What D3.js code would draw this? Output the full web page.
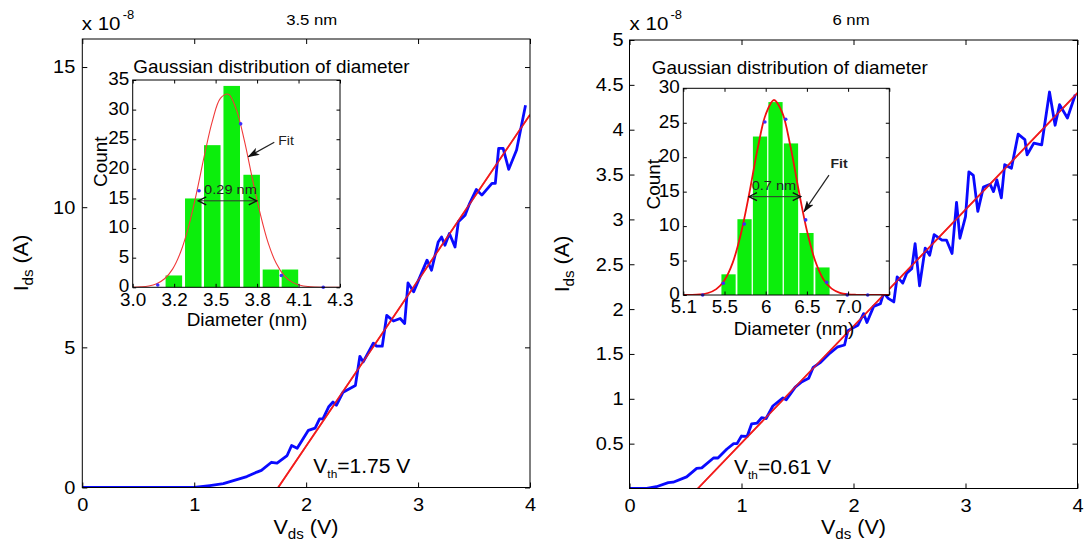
<!DOCTYPE html>
<html>
<head>
<meta charset="utf-8">
<script src="https://cdn.jsdelivr.net/npm/d3@7/dist/d3.min.js"></script>
<style>
  html,body{margin:0;padding:0;background:#fff;}
  svg{display:block;}
</style>
</head>
<body>
<svg id="chart" width="1086" height="552"></svg>
<script>
// ================= DATA =================
// ---- Panel A : 3.5 nm ----
const titleA = "3.5 nm";
const vdsA = [0,0.5,1.0,1.02,1.14,1.26,1.38,1.47,1.56,1.60,1.69,1.74,1.83,1.87,1.92,2.02,2.08,2.12,2.15,2.20,2.24,2.27,2.33,2.44,2.48,2.51,2.60,2.63,2.68,2.72,2.78,2.84,2.88,2.91,2.96,3.08,3.12,3.18,3.21,3.24,3.28,3.33,3.36,3.42,3.46,3.52,3.57,3.66,3.69,3.72,3.76,3.81,3.88,3.96];
const idsA = [0,0,0,0.01,0.07,0.14,0.28,0.39,0.55,0.61,0.90,0.87,1.14,1.50,1.40,2.04,2.12,2.45,2.45,2.87,3.05,2.93,3.40,3.64,4.68,4.48,5.15,5.04,5.04,6.14,5.94,6.03,5.85,7.30,6.98,8.11,7.75,8.76,8.94,8.64,9.06,8.58,9.48,9.71,10.13,10.63,10.43,10.85,10.85,12.10,12.10,11.35,12.04,13.64];
const fitVA = [1.75, 4.0];
const fitIA = [0, 13.3];
const vthTextA = "=1.75 V";
const yTicksA = [0, 5, 10, 15];
// inset A : diameter histogram
const binA = [3.258, 3.380, 3.499, 3.621, 3.746, 3.867, 3.986];
const countA = [2, 15, 24, 34, 19, 3, 3];
const gaussXA = [3.00,3.05,3.10,3.15,3.20,3.25,3.30,3.35,3.40,3.45,3.50,3.55,3.60,3.65,3.70,3.75,3.80,3.85,3.90,3.95,4.00,4.05,4.10,4.15,4.20,4.30];
const gaussYA = [0.02,0.08,0.23,0.61,1.44,3.07,5.91,10.2,15.9,22.3,28.1,31.9,32.6,30.0,24.8,18.4,12.4,7.45,4.04,1.97,0.87,0.34,0.12,0.04,0.01,0];
const dotXA = [3.157, 3.416, 3.677, 3.932, 4.195];
const dotYA = [0.4, 16.3, 27.6, 2.0, 0];
const insetXLabelsA = ["3.0", "3.2", "3.5", "3.8", "4.1", "4.3"];
const insetYTicksA = [0, 5, 10, 15, 20, 25, 30, 35];
const fwhmTextA = "0.29 nm";

// ---- Panel B : 6 nm ----
const titleB = "6 nm";
const vdsB = [0,0.154,0.24,0.346,0.39,0.51,0.60,0.645,0.75,0.79,0.87,0.93,0.96,1.00,1.05,1.09,1.14,1.18,1.22,1.28,1.37,1.40,1.48,1.54,1.60,1.64,1.70,1.79,1.86,1.92,1.95,2.01,2.04,2.09,2.12,2.18,2.24,2.27,2.31,2.36,2.39,2.44,2.475,2.52,2.55,2.59,2.64,2.68,2.72,2.79,2.83,2.88,2.92,2.95,3.00,3.03,3.07,3.11,3.16,3.22,3.25,3.28,3.32,3.35,3.41,3.47,3.53,3.55,3.61,3.68,3.75,3.80,3.84,3.91,3.98];
const idsB = [0,0,0.02,0.065,0.07,0.13,0.225,0.23,0.34,0.34,0.44,0.50,0.50,0.585,0.58,0.72,0.73,0.79,0.78,0.92,1.01,0.99,1.13,1.19,1.23,1.35,1.40,1.51,1.58,1.60,1.76,1.80,1.82,1.95,1.85,2.03,2.06,2.18,2.12,2.08,2.36,2.29,2.40,2.45,2.73,2.26,2.68,2.60,2.83,2.77,2.77,2.62,3.19,2.79,3.03,3.53,3.49,3.09,3.36,3.39,3.31,3.44,3.24,3.61,3.57,3.95,3.89,3.72,3.85,3.83,4.42,4.05,4.28,4.13,4.39];
const fitVB = [0.61, 4.0];
const fitIB = [0, 4.41];
const vthTextB = "=0.61 V";
const yTicksB = [0.5, 1, 1.5, 2, 2.5, 3, 3.5, 4, 4.5, 5];
// inset B
const binB = [5.549, 5.743, 5.931, 6.119, 6.307, 6.495, 6.689];
const countB = [3, 11, 23, 28, 22, 9, 4];
const gaussXB = [5.0,5.1,5.2,5.3,5.4,5.5,5.6,5.7,5.8,5.9,6.0,6.1,6.2,6.3,6.4,6.5,6.6,6.7,6.8,6.9,7.0,7.1,7.2,7.5];
const gaussYB = [0.005,0.02,0.09,0.29,0.85,2.15,4.70,8.93,14.7,21.1,26.2,28.3,26.5,21.6,15.2,9.34,4.97,2.30,0.92,0.32,0.10,0.03,0.01,0];
const dotXB = [5.235, 5.485, 5.74, 5.99, 6.243, 6.485, 6.74, 6.99, 7.238];
const dotYB = [0, 1.7, 10.3, 25.1, 25.5, 10.9, 1.85, 0, 0];
const insetXLabelsB = ["5.1", "5.5", "6", "6.5", "7.0", ""];
const insetYTicksB = [0, 5, 10, 15, 20, 25, 30];
const fwhmTextB = "0.7 nm";

const xTicksMain = [0, 1, 2, 3, 4];
const insetTitle = "Gaussian distribution of diameter";

// ================= DRAWING =================
const FONT = '"Liberation Sans", Arial, Helvetica, sans-serif';
const SX = 1.08;
const BLUE = "#0a0aff", RED = "#f21c1c", GREEN = "#0cee0c";
const svg = d3.select("#chart");
svg.append("rect").attr("width", 1086).attr("height", 552).attr("fill", "#fff");
const defs = svg.append("defs");
defs.append("marker").attr("id", "headFill").attr("viewBox", "0 0 12 8")
  .attr("refX", 11).attr("refY", 4).attr("markerWidth", 12).attr("markerHeight", 8)
  .attr("markerUnits", "userSpaceOnUse").attr("orient", "auto")
  .append("path").attr("d", "M0,0 L12,4 L0,8 L3,4 Z").attr("fill", "#111");
defs.append("marker").attr("id", "chev").attr("viewBox", "-1 -1 10 10")
  .attr("refX", 8).attr("refY", 4).attr("markerWidth", 10).attr("markerHeight", 10)
  .attr("markerUnits", "userSpaceOnUse").attr("orient", "auto-start-reverse")
  .append("path").attr("d", "M0,0 L8,4 L0,8").attr("fill", "none")
  .attr("stroke", "#111").attr("stroke-width", 1.4);

function txt(parent, x, y, size, anchor, rot) {
  return parent.append("text")
    .attr("transform", `translate(${x},${y})` + (rot ? ` rotate(${rot})` : "") + ` scale(${SX},1)`)
    .attr("font-family", FONT).attr("font-size", size)
    .attr("text-anchor", anchor || "start").attr("fill", "#000");
}

function stretchTicks(sel) {
  sel.selectAll("text").each(function () {
    const t = d3.select(this);
    const x = +t.attr("x") || 0, y = +t.attr("y") || 0;
    t.attr("x", 0).attr("y", 0).attr("transform", `translate(${x},${y}) scale(${SX},1)`);
  });
}

function frame(g, xs, ys, o) {
  const [x0, x1] = xs.range();
  const [y0, y1] = ys.range();
  const style = a => {
    a.attr("font-family", FONT).attr("font-size", o.fs);
    a.select(".domain").remove();
    a.selectAll("line").attr("stroke", "#000").attr("stroke-width", 1);
    a.selectAll("text").attr("fill", "#000");
    stretchTicks(a);
  };
  const none = () => "";
  g.append("g").attr("transform", `translate(0,${y0})`)
    .call(d3.axisBottom(xs).tickValues(o.xt).tickFormat((d, i) => o.xl[i])
      .tickSizeInner(-o.tl).tickSizeOuter(0).tickPadding(o.px)).call(style);
  g.append("g").attr("transform", `translate(0,${y1})`)
    .call(d3.axisTop(xs).tickValues(o.xt).tickFormat(none)
      .tickSizeInner(-o.tl).tickSizeOuter(0)).call(style);
  g.append("g").attr("transform", `translate(${x0},0)`)
    .call(d3.axisLeft(ys).tickValues(o.yt).tickFormat((d, i) => o.yl[i])
      .tickSizeInner(-o.tl).tickSizeOuter(0).tickPadding(o.py)).call(style)
    .selectAll("text").attr("dy", o.ydy || "0.32em");
  g.append("g").attr("transform", `translate(${x1},0)`)
    .call(d3.axisRight(ys).tickValues(o.yt).tickFormat(none)
      .tickSizeInner(-o.tl).tickSizeOuter(0)).call(style);
  g.append("rect").attr("x", x0).attr("y", y1).attr("width", x1 - x0).attr("height", y0 - y1)
    .attr("fill", "none").attr("stroke", "#000").attr("stroke-width", 1);
}

let clipId = 0;
function clipRect(x0, y0, x1, y1) {
  const id = "clip" + (clipId++);
  defs.append("clipPath").attr("id", id).append("rect")
    .attr("x", x0).attr("y", y0).attr("width", x1 - x0).attr("height", y1 - y0);
  return `url(#${id})`;
}

function panel(P) {
  const g = svg.append("g");
  const B = P.box;
  const xs = d3.scaleLinear().domain([0, 4]).range([B.l, B.r]);
  const ys = d3.scaleLinear().domain(P.yDom).range([B.b, B.t]);
  const cp = clipRect(B.l, B.t, B.r, B.b);
  const lines = g.append("g").attr("clip-path", cp);
  const fitPath = d3.line().x(i => xs(P.fitV[i])).y(i => ys(P.fitI[i]))(d3.range(P.fitV.length));
  lines.append("path").attr("d", fitPath)
    .attr("fill", "none").attr("stroke", RED).attr("stroke-width", 1.7);
  lines.append("path")
    .attr("d", d3.line().x(i => xs(P.vds[i])).y(i => ys(P.ids[i]))(d3.range(P.vds.length)))
    .attr("fill", "none").attr("stroke", BLUE).attr("stroke-width", 2.8)
    .attr("stroke-linejoin", "round");
  lines.append("path").attr("d", fitPath)
    .attr("fill", "none").attr("stroke", RED).attr("stroke-width", 1.5).attr("opacity", 0.85);

  frame(g, xs, ys, { xt: xTicksMain, xl: xTicksMain.map(String), yt: P.yTicks, yl: P.yTicks.map(String),
    tl: 5, px: 10, py: P.padY, fs: 18.5 });

  // titles and labels
  txt(g, P.title.x, P.title.y, 15.5, "middle").text(P.titleText);
  const ex = txt(g, P.expo.x, P.expo.y, 19, "start");
  ex.append("tspan").text("x 10");
  ex.append("tspan").attr("font-size", 12).attr("dx", 2).attr("dy", -11.5).text("-8");
  const yl = txt(g, P.ylab.x, P.ylab.y, 20, "middle", -90);
  yl.append("tspan").text("I");
  yl.append("tspan").attr("font-size", 14).attr("dy", 5).text("ds");
  yl.append("tspan").attr("dy", -5).text(" (A)");
  const xl = txt(g, P.xlab.x, P.xlab.y, 20, "middle");
  xl.append("tspan").text("V");
  xl.append("tspan").attr("font-size", 14).attr("dy", 5).text("ds");
  xl.append("tspan").attr("dy", -5).text(" (V)");
  const vt = txt(g, xs(P.vthPos[0]), ys(P.vthPos[1]), 19.5, "start");
  vt.append("tspan").text("V");
  vt.append("tspan").attr("font-size", 11).attr("dy", 5).text("th");
  vt.append("tspan").attr("dy", -5).text(P.vthText);

  // ---------- inset ----------
  const I = P.inset;
  const ig = svg.append("g");
  const ixs = d3.scaleLinear().domain(I.xDom).range([I.l, I.r]);
  const iys = d3.scaleLinear().domain(I.yDom).range([I.b, I.t]);
  ig.append("rect").attr("x", I.l).attr("y", I.t).attr("width", I.r - I.l).attr("height", I.b - I.t).attr("fill", "#fff");
  const pitch = P.bins[1] - P.bins[0];
  const bw = pitch * I.barFrac;
  ig.append("g").selectAll("rect").data(d3.range(P.bins.length)).join("rect")
    .attr("x", i => ixs(P.bins[i] - bw / 2))
    .attr("width", i => ixs(P.bins[i] + bw / 2) - ixs(P.bins[i] - bw / 2))
    .attr("y", i => iys(P.counts[i]))
    .attr("height", i => iys(0) - iys(P.counts[i]))
    .attr("fill", GREEN);
  const icp = clipRect(I.l, I.t, I.r, I.b);
  ig.append("path").attr("clip-path", icp)
    .attr("d", d3.line().curve(d3.curveCatmullRom.alpha(0.5))
      .x(i => ixs(P.gx[i])).y(i => iys(P.gy[i]))(d3.range(P.gx.length)))
    .attr("fill", "none").attr("stroke", I.curveColor).attr("stroke-width", I.curveW);
  ig.append("g").selectAll("circle").data(d3.range(P.dx.length)).join("circle")
    .attr("cx", i => ixs(P.dx[i])).attr("cy", i => iys(P.dy[i])).attr("r", 1.8)
    .attr("fill", "#3a2cff");

  const n = P.ixLabels.length;
  const ixt = d3.range(n).map(i => I.xDom[0] + i * (I.xDom[1] - I.xDom[0]) / (n - 1));
  frame(ig, ixs, iys, { xt: ixt, xl: P.ixLabels, yt: P.iyTicks, yl: P.iyTicks.map(String),
    tl: 3.5, px: 6, py: 3.5, fs: 17.5, ydy: "0.26em" });

  txt(ig, I.title.x, I.title.y, 17.5, "start").text(insetTitle);
  txt(ig, I.count.x, I.count.y, 17.5, "middle", -90).text("Count");
  txt(ig, I.diam.x, I.diam.y, 17.5, "middle").text("Diameter (nm)");

  // Fit arrow
  ig.append("line")
    .attr("x1", ixs(I.fitArrow[0])).attr("y1", iys(I.fitArrow[1]))
    .attr("x2", ixs(I.fitArrow[2])).attr("y2", iys(I.fitArrow[3]))
    .attr("stroke", "#222").attr("stroke-width", 1.2).attr("marker-end", "url(#headFill)");
  txt(ig, ixs(I.fitText[0]), iys(I.fitText[1]), 13, I.fitAnchor)
    .attr("font-weight", I.fitBold ? "bold" : "normal").attr("fill", "#222").text("Fit");
  // FWHM double arrow
  ig.append("line")
    .attr("x1", ixs(I.fwhm[0])).attr("x2", ixs(I.fwhm[1]))
    .attr("y1", iys(I.fwhm[2])).attr("y2", iys(I.fwhm[2]))
    .attr("stroke", "#333").attr("stroke-width", 1)
    .attr("marker-start", "url(#chev)").attr("marker-end", "url(#chev)");
  txt(ig, ixs(I.fwhmText[0]), iys(I.fwhmText[1]), 13.5, "middle").attr("fill", "#222").text(P.fwhmText);
}

panel({
  titleText: titleA, vds: vdsA, ids: idsA, fitV: fitVA, fitI: fitIA, vthText: vthTextA,
  yTicks: yTicksA, yDom: [0, 16], padY: 7,
  box: { l: 82.3, r: 530, t: 39, b: 487.5 },
  title: { x: 311.7, y: 25 }, expo: { x: 81.7, y: 30 },
  ylab: { x: 28, y: 263 }, xlab: { x: 306, y: 534 },
  vthPos: [2.064, 0.53],
  bins: binA, counts: countA, gx: gaussXA, gy: gaussYA, dx: dotXA, dy: dotYA,
  ixLabels: insetXLabelsA, iyTicks: insetYTicksA, fwhmText: fwhmTextA,
  inset: {
    l: 132.7, r: 340, t: 80, b: 287.3, xDom: [3.0, 4.3], yDom: [0, 35], barFrac: 0.85,
    curveColor: "#f03a3a", curveW: 1.1,
    title: { x: 133.3, y: 73.3 }, count: { x: 107, y: 161.7 }, diam: { x: 247, y: 326 },
    fitArrow: [3.888, 24.5, 3.725, 22.05], fitText: [3.913, 24.1], fitAnchor: "start", fitBold: false,
    fwhm: [3.411, 3.778, 14.6], fwhmText: [3.613, 15.7]
  }
});

panel({
  titleText: titleB, vds: vdsB, ids: idsB, fitV: fitVB, fitI: fitIB, vthText: vthTextB,
  yTicks: yTicksB, yDom: [0, 5], padY: 6,
  box: { l: 629.5, r: 1077.5, t: 40, b: 488.5 },
  title: { x: 851, y: 24.5 }, expo: { x: 629.6, y: 30.2 },
  ylab: { x: 569, y: 264 }, xlab: { x: 853.5, y: 534 },
  vthPos: [0.933, 0.158],
  bins: binB, counts: countB, gx: gaussXB, gy: gaussYB, dx: dotXB, dy: dotYB,
  ixLabels: insetXLabelsB, iyTicks: insetYTicksB, fwhmText: fwhmTextB,
  inset: {
    l: 683.3, r: 889.3, t: 88.3, b: 295, xDom: [5.0, 7.5], yDom: [0, 30], barFrac: 0.89,
    curveColor: "#f01010", curveW: 1.8,
    title: { x: 651.7, y: 74 }, count: { x: 660, y: 184.2 }, diam: { x: 794, y: 335 },
    fitArrow: [6.768, 17.4, 6.465, 12.1], fitText: [6.89, 18.4], fitAnchor: "middle", fitBold: true,
    fwhm: [5.797, 6.425, 14.27], fwhmText: [6.10, 15.2]
  }
});
</script>
</body>
</html>
